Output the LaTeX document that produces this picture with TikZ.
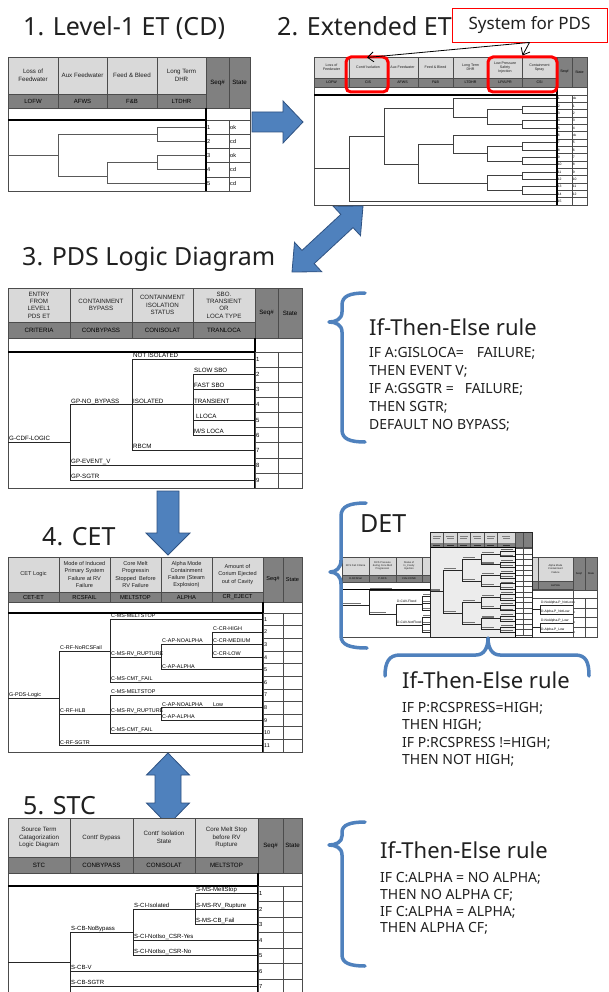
\documentclass[tikz,border=0pt]{standalone}
\usepackage{fontspec}
\setmainfont{Noto Sans}
\newfontfamily\tabfont{Liberation Sans}
\usetikzlibrary{arrows.meta}

\definecolor{cLight}{RGB}{217,217,217}
\definecolor{cDark}{RGB}{128,128,128}
\definecolor{arrowblue}{RGB}{79,129,189}
\definecolor{arrowedge}{RGB}{47,82,130}
\definecolor{inkgray}{RGB}{32,32,32}
\definecolor{detfill}{RGB}{236,236,236}

% header column: light title cell over a dark code cell
\newcommand{\hcol}[8]{%
  \fill[cLight] (#2,#4) rectangle (#3,#5);
  \fill[cDark] (#2,#5) rectangle (#3,#6);
  \draw[gridline] (#2,#4) rectangle (#3,#6);
  \draw[gridline] (#2,#5) -- (#3,#5);
  \node[hdrtext] (#1-h) at ({(#2+#3)/2},{(#4+#5)/2}) {#7};
  \node[codetext] (#1-c) at ({(#2+#3)/2},{(#5+#6)/2}) {#8};}
% dark header cell of the Seq#/State columns
\newcommand{\shead}[6]{%
  \fill[cDark] (#2,#4) rectangle (#3,#5);
  \draw[gridline] (#2,#4) rectangle (#3,#5);
  \node[hdrtext,text=black] (#1) at ({(#2+#3)/2},{(#4+#5)/2}) {#6};}
% numbered Seq#/State rows
\newcommand{\seqgrid}[7]{%
  \foreach \i in {1,...,#7}{%
    \draw[gridline] (#2,{#5+(\i-1)*#6}) rectangle (#3,{#5+\i*#6});
    \draw[gridline] (#3,{#5+(\i-1)*#6}) rectangle (#4,{#5+\i*#6});
    \node[seqtext] (#1-n\i) at (#2,{#5+(\i-0.5)*#6}) {\i};}}
% row centre of the current table
\newcommand{\rowy}[1]{(\ty+(#1-0.5)*\th)}
\newcommand{\midy}[2]{(\rowy{#1}+\rowy{#2})/2}
\newcommand{\hseg}[3]{\draw[treeline] ({#1},{#3}) -- ({#2},{#3});}
\newcommand{\vseg}[3]{\draw[treeline] ({#1},{#2}) -- ({#1},{#3});}
\newcommand{\tlab}[4]{\node[treelabel] (#1) at ({#2},{#3}) {#4};}
% tiny unreadable label drawn as a grey stroke
\newcommand{\txtbar}[3]{\fill[black!55] ({#1+1},{#3-2.3}) rectangle ({#1+1+#2},{#3-1.2});}

\begin{document}
\begin{tikzpicture}[x=1pt,y=-1pt,
  gridline/.style={draw=black!70, line width=0.5pt},
  treeline/.style={draw=black!85, line width=0.8pt},
  boldrule/.style={draw=black, line width=1.8pt},
  hdrtext/.style={inner sep=0pt, align=center, text=black!88},
  codetext/.style={inner sep=0pt},
  seqtext/.style={anchor=west, inner sep=1pt},
  treelabel/.style={anchor=base west, inner sep=0pt, xshift=1pt, yshift=1.8pt},
  titletext/.style={anchor=base west, inner sep=0pt, font=\fontsize{25}{30}\selectfont, text=inkgray},
  ruleh/.style={anchor=base west, inner sep=0pt, font=\fontsize{22}{26}\selectfont, text=inkgray},
  ruleb/.style={anchor=base west, inner sep=0pt, font=\fontsize{14}{17}\selectfont, text=inkgray},
  blockarrow/.style={fill=arrowblue, draw=arrowedge, line width=0.8pt, line join=miter},
  bracestroke/.style={draw=arrowblue, line width=3.5pt, line cap=round, line join=round},
  redframe/.style={draw=red, line width=3pt, rounded corners=5pt, inner sep=0pt},
  pointer/.style={draw=black, line width=0.8pt, -{Straight Barb[length=6pt,width=10pt]}}]
\useasboundingbox (0,0) rectangle (608,992);
\fill[white] (0,0) rectangle (608,992);
\clip (0,0) rectangle (608,992);

% ---------- titles ----------
\node[titletext] (t1) at (23,36) {1. Level-1 ET (CD)};
\node[titletext] (t2) at (277,36) {2. Extended ET};
\node[titletext] (t3) at (22,265) {3. PDS Logic Diagram};
\node[titletext] (t4) at (42,545) {4. CET};
\node[titletext] (t5) at (23,814) {5. STC};
\node[titletext] (t6) at (360,532) {DET};

% ---------- 1. Level-1 ET ----------
\begin{scope}[hdrtext/.append style={font=\tabfont\fontsize{6.2}{7.6}\selectfont},
  codetext/.append style={font=\tabfont\fontsize{6}{7}\selectfont},
  seqtext/.append style={font=\tabfont\fontsize{5.6}{6}\selectfont},
  treeline/.style={draw=black!65, line width=0.8pt}]
\def\ty{120}\def\th{14.2}
\hcol{a1}{8}{58}{57}{94}{108}{Loss of\\Feedwater}{LOFW}
\hcol{a2}{58}{107}{57}{94}{108}{Aux Feedwater}{AFWS}
\hcol{a3}{107}{157}{57}{94}{108}{Feed \& Bleed}{F\&B}
\hcol{a4}{157}{206}{57}{94}{108}{Long Term\\DHR}{LTDHR}
\shead{a-sq}{206}{229}{57}{108}{Seq\#}
\shead{a-st}{229}{250}{57}{108}{State}
\draw[gridline] (8,108) rectangle (206,120);
\draw[gridline] (206,108) rectangle (250,120);
\draw[gridline] (8,120) rectangle (206,191);
\hseg{8}{58}{(\midy{1}{2}+\midy{4}{5})/2}
\vseg{58}{\midy{1}{2}}{\midy{4}{5}}
\hseg{58}{157}{\midy{1}{2}}
\vseg{157}{\rowy{1}}{\rowy{2}}
\hseg{157}{206}{\rowy{1}}
\hseg{157}{206}{\rowy{2}}
\hseg{58}{107}{\midy{4}{5}}
\vseg{107}{\midy{3}{4}}{\rowy{5}}
\hseg{107}{157}{\midy{3}{4}}
\vseg{157}{\rowy{3}}{\rowy{4}}
\hseg{157}{206}{\rowy{3}}
\hseg{157}{206}{\rowy{4}}
\hseg{107}{206}{\rowy{5}}
\seqgrid{a}{206}{229}{250}{120}{14.2}{5}
\foreach \i/\st in {1/ok,2/cd,3/ok,4/cd,5/cd}
  \node[seqtext] (a-s\i) at (229,{120+(\i-0.5)*14.2}) {\st};
\draw[boldrule] (8,120) -- (206,120);
\draw[boldrule] (206,108) -- (206,191);
\end{scope}

% arrow 1 -> 2
\filldraw[blockarrow] (252,112) -- (283,112) -- (283,101) -- (303,122) -- (283,143) -- (283,132) -- (252,132) -- cycle;

% ---------- 2. Extended ET ----------
\begin{scope}[hdrtext/.append style={font=\tabfont\fontsize{3.6}{4.2}\selectfont},
  codetext/.append style={font=\tabfont\fontsize{3.6}{4}\selectfont},
  seqtext/.append style={font=\tabfont\fontsize{3.4}{4}\selectfont, inner sep=0.6pt},
  treeline/.style={draw=black!75, line width=0.7pt}]
\def\ty{95}\def\th{7.3333}
\hcol{b1}{314}{349}{57}{78}{87}{Loss of\\Feedwater}{LOFW}
\hcol{b2}{349}{387}{57}{78}{87}{Contt' Isolation}{CIS}
\hcol{b3}{387}{418}{57}{78}{87}{Aux Feedwater}{AFWS}
\hcol{b4}{418}{453}{57}{78}{87}{Feed \& Bleed}{F\&B}
\hcol{b5}{453}{488}{57}{78}{87}{Long Term\\DHR}{LTDHR}
\hcol{b6}{488}{522}{57}{78}{87}{Low Pressure\\Safety\\Injection}{LPI/LPR}
\hcol{b7}{522}{557}{57}{78}{87}{Containment\\Spray}{CSI}
\shead{b-sq}{557}{572}{57}{87}{Seq\#}
\shead{b-st}{572}{587}{57}{87}{State}
\draw[gridline] (314,87) rectangle (557,95);
\draw[gridline] (557,87) rectangle (587,95);
\draw[gridline] (314,95) rectangle (557,205);
% event tree
\hseg{314}{349}{(136+\rowy{15})/2}
\vseg{349}{136}{\rowy{15}}
\hseg{349}{557}{\rowy{15}}
\hseg{349}{384}{136}
\vseg{384}{108}{164}
\hseg{384}{453}{108}
\vseg{453}{\rowy{1}}{117}
\hseg{453}{557}{\rowy{1}}
\hseg{453}{487}{117}
\vseg{487}{\midy{2}{3}}{\midy{4}{5}}
\foreach \k in {2,4}{%
  \hseg{487}{522}{\midy{\k}{\k+1}}
  \vseg{522}{\rowy{\k}}{\rowy{\k+1}}
  \hseg{522}{557}{\rowy{\k}}
  \hseg{522}{557}{\rowy{\k+1}}}
\hseg{384}{418}{164}
\vseg{418}{(\rowy{6}+\midy{8}{9})/2}{\midy{12}{13}}
\hseg{418}{453}{(\rowy{6}+\midy{8}{9})/2}
\vseg{453}{\rowy{6}}{\midy{8}{9}}
\hseg{453}{557}{\rowy{6}}
\hseg{453}{487}{\midy{8}{9}}
\vseg{487}{\midy{7}{8}}{\midy{9}{10}}
\hseg{418}{487}{\midy{12}{13}}
\vseg{487}{\midy{11}{12}}{\midy{13}{14}}
\foreach \k in {7,9,11,13}{%
  \hseg{487}{522}{\midy{\k}{\k+1}}
  \vseg{522}{\rowy{\k}}{\rowy{\k+1}}
  \hseg{522}{557}{\rowy{\k}}
  \hseg{522}{557}{\rowy{\k+1}}}
\seqgrid{b}{557}{572}{587}{95}{7.3333}{15}
\foreach \i/\st in {1/ok,2/1,3/2,4/3,5/4,6/ok,7/5,8/6,9/7,10/8,11/9,12/10,13/11,14/12}
  \node[seqtext] (b-s\i) at (572,{95+(\i-0.5)*7.3333}) {\st};
\draw[boldrule, line width=1.3pt] (314,95) -- (557,95);
\draw[boldrule, line width=1.3pt] (557,87) -- (557,205);
\end{scope}

% systems added for the PDS
\node[redframe, minimum width=42pt, minimum height=35pt] (ciss) at (367,74.5) {};
\node[redframe, minimum width=69pt, minimum height=35pt] (lpis) at (522.5,74.5) {};
\node[draw=red, line width=0.9pt, fill=white, minimum width=155pt, minimum height=34pt, inner sep=0pt,
  font=\fontsize{17}{20}\selectfont, text=inkgray] (sys) at (529.5,25) {System for PDS};
\draw[pointer] (sys.south) -- ([yshift=-2pt]ciss.north);
\draw[pointer] (sys.south) -- (lpis.north);

% arrow 2 <-> 3
\filldraw[blockarrow] (292,272) -- (321.7,271.7) -- (314.2,263.6) -- (353.0,227.6) -- (360.5,235.7)
  -- (363,206) -- (333.3,206.3) -- (340.8,214.4) -- (302.0,250.4) -- (294.5,242.3) -- cycle;

% ---------- 3. PDS logic diagram ----------
\begin{scope}[hdrtext/.append style={font=\tabfont\fontsize{6.2}{7.3}\selectfont},
  codetext/.append style={font=\tabfont\fontsize{6.2}{7}\selectfont},
  seqtext/.append style={font=\tabfont\fontsize{6}{7}\selectfont},
  treelabel/.append style={font=\tabfont\fontsize{6.2}{7}\selectfont}]
\def\ty{352}\def\th{15.111}
\hcol{c1}{8}{70}{288}{322}{338}{ENTRY\\FROM\\LEVEL1\\PDS ET}{CRITERIA}
\hcol{c2}{70}{132}{288}{322}{338}{CONTAINMENT\\BYPASS}{CONBYPASS}
\hcol{c3}{132}{193}{288}{322}{338}{CONTAINMENT\\ISOLATION\\STATUS}{CONISOLAT}
\hcol{c4}{193}{255}{288}{322}{338}{SBO.\\TRANSIENT\\OR\\LOCA TYPE}{TRANLOCA}
\shead{c-sq}{255}{278}{288}{338}{Seq\#}
\shead{c-st}{278}{302}{288}{338}{State}
\draw[gridline] (8,338) rectangle (255,352);
\draw[gridline] (255,338) rectangle (302,352);
\draw[gridline] (8,352) rectangle (255,488);
\hseg{8}{70}{(\midy{1}{7}+\rowy{9})/2}
\vseg{70}{\midy{1}{7}}{\rowy{9}}
\hseg{70}{132}{\midy{1}{7}}
\vseg{132}{\rowy{1}}{\rowy{7}}
\hseg{132}{255}{\rowy{1}}
\hseg{132}{193}{\rowy{4}}
\vseg{193}{\rowy{2}}{\rowy{6}}
\foreach \k in {2,...,6}{\hseg{193}{255}{\rowy{\k}}}
\hseg{132}{255}{\rowy{7}}
\hseg{70}{255}{\rowy{8}}
\hseg{70}{255}{\rowy{9}}
\tlab{c-l0}{8}{(\midy{1}{7}+\rowy{9})/2}{G-CDF-LOGIC}
\tlab{c-l1}{70}{\midy{1}{7}}{GP-NO\_BYPASS}
\tlab{c-l2}{132}{\rowy{1}}{NOT ISOLATED}
\tlab{c-l3}{132}{\rowy{4}}{ISOLATED}
\tlab{c-l4}{193}{\rowy{2}}{SLOW SBO}
\tlab{c-l5}{193}{\rowy{3}}{FAST SBO}
\tlab{c-l6}{193}{\rowy{4}}{TRANSIENT}
\tlab{c-l7}{195}{\rowy{5}}{LLOCA}
\tlab{c-l8}{193}{\rowy{6}}{M/S LOCA}
\tlab{c-l9}{132}{\rowy{7}}{RBCM}
\tlab{c-l10}{70}{\rowy{8}}{GP-EVENT\_V}
\tlab{c-l11}{70}{\rowy{9}}{GP-SGTR}
\draw[boldrule] (8,352) -- (255,352);
\draw[boldrule] (255,338) -- (255,488);
\seqgrid{c}{255}{278}{302}{352}{15.111}{9}
\end{scope}

% rule for the PDS logic
\draw[bracestroke] (365,293) .. controls (350,293) and (342,296) .. (342,305) -- (342,312)
  .. controls (342,319) and (336,322) .. (329,322) .. controls (336,322) and (342,325) .. (342,332)
  -- (342,430) .. controls (342,439) and (350,442) .. (365,442);
\node[ruleh] (r1h) at (369,335) {If-Then-Else rule};
\node[ruleb] (r1a) at (369,357) {IF A:GISLOCA=\hspace{13pt}FAILURE;};
\node[ruleb] (r1b) at (369,375) {THEN EVENT V;};
\node[ruleb] (r1c) at (369,393) {IF A:GSGTR =\hspace{11pt}FAILURE;};
\node[ruleb] (r1d) at (369,411) {THEN SGTR;};
\node[ruleb] (r1e) at (369,429) {DEFAULT NO BYPASS;};

% arrow 3 -> 4
\filldraw[blockarrow] (157,491) -- (179,491) -- (179,533) -- (190,533) -- (168,555) -- (146,533) -- (157,533) -- cycle;

% ---------- 4. CET ----------
\begin{scope}[hdrtext/.append style={font=\tabfont\fontsize{5.6}{7.2}\selectfont},
  codetext/.append style={font=\tabfont\fontsize{5.8}{7}\selectfont},
  seqtext/.append style={font=\tabfont\fontsize{5.4}{6}\selectfont},
  treelabel/.append style={font=\tabfont\fontsize{5.4}{6}\selectfont, yshift=-0.2pt}]
\def\ty{613}\def\th{12.636}
\hcol{d1}{8}{59}{557}{592}{602}{CET Logic}{CET-ET}
\hcol{d2}{59}{110}{557}{592}{602}{Mode of Induced\\Primary System\\Failure at RV\\Failure}{RCSFAIL}
\hcol{d3}{110}{161}{557}{592}{602}{Core Melt\\Progressin\\Stopped~ Before\\RV Failure}{MELTSTOP}
\hcol{d4}{161}{212}{557}{592}{602}{Alpha Mode\\Containment\\Failure (Steam\\Explosion)}{ALPHA}
\hcol{d5}{212}{263}{557}{592}{602}{Amount of\\Corium Ejected\\out of Cavity}{CR\_EJECT}
\shead{d-sq}{263}{283}{557}{602}{Seq\#}
\shead{d-st}{283}{302}{557}{602}{State}
\draw[gridline] (8,602) rectangle (263,613);
\draw[gridline] (263,602) rectangle (302,613);
\draw[gridline] (8,613) rectangle (263,752);
\hseg{8}{59}{(\midy{1}{6}+\rowy{11})/2}
\vseg{59}{\midy{1}{6}}{\rowy{11}}
\hseg{59}{110}{\midy{1}{6}}
\vseg{110}{\rowy{1}}{\rowy{6}}
\hseg{110}{263}{\rowy{1}}
\hseg{110}{161}{\rowy{4}}
\vseg{161}{\rowy{3}}{\rowy{5}}
\hseg{161}{212}{\rowy{3}}
\vseg{212}{\rowy{2}}{\rowy{4}}
\foreach \k in {2,3,4}{\hseg{212}{263}{\rowy{\k}}}
\hseg{161}{263}{\rowy{5}}
\hseg{110}{263}{\rowy{6}}
\hseg{59}{110}{\midy{7}{10}}
\vseg{110}{\rowy{7}}{\rowy{10}}
\hseg{110}{263}{\rowy{7}}
\hseg{110}{161}{\midy{8}{9}}
\vseg{161}{\rowy{8}}{\rowy{9}}
\hseg{161}{263}{\rowy{8}}
\hseg{161}{263}{\rowy{9}}
\hseg{110}{263}{\rowy{10}}
\hseg{59}{263}{\rowy{11}}
\tlab{d-l0}{8}{(\midy{1}{6}+\rowy{11})/2}{G-PDS-Logic}
\tlab{d-l1}{59}{\midy{1}{6}}{C-RF-NoRCSFail}
\tlab{d-l2}{110}{\rowy{1}}{C-MS-MELTSTOP}
\tlab{d-l3}{110}{\rowy{4}}{C-MS-RV\_RUPTURE}
\tlab{d-l4}{161}{\rowy{3}}{C-AP-NOALPHA}
\tlab{d-l5}{212}{\rowy{2}}{C-CR-HIGH}
\tlab{d-l6}{212}{\rowy{3}}{C-CR-MEDIUM}
\tlab{d-l7}{212}{\rowy{4}}{C-CR-LOW}
\tlab{d-l8}{161}{\rowy{5}}{C-AP-ALPHA}
\tlab{d-l9}{110}{\rowy{6}}{C-MS-CMT\_FAIL}
\tlab{d-l10}{59}{\midy{7}{10}}{C-RF-HLB}
\tlab{d-l11}{110}{\rowy{7}}{C-MS-MELTSTOP}
\tlab{d-l12}{110}{\midy{8}{9}}{C-MS-RV\_RUPTURE}
\tlab{d-l13}{161}{\rowy{8}}{C-AP-NOALPHA}
\tlab{d-l14}{212}{\rowy{8}}{Low}
\tlab{d-l15}{161}{\rowy{9}}{C-AP-ALPHA}
\tlab{d-l16}{110}{\rowy{10}}{C-MS-CMT\_FAIL}
\tlab{d-l17}{59}{\rowy{11}}{C-RF-SGTR}
\draw[boldrule] (8,613) -- (263,613);
\draw[boldrule] (263,602) -- (263,752);
\seqgrid{d}{263}{283}{302}{613}{12.636}{11}
\end{scope}

% ---------- DET: back table ----------
\begin{scope}[hdrtext/.append style={font=\tabfont\fontsize{2.6}{3.1}\selectfont},
  codetext/.append style={font=\tabfont\fontsize{2.6}{3}\selectfont},
  seqtext/.append style={font=\tabfont\fontsize{2.6}{3}\selectfont, inner sep=0.5pt},
  treelabel/.append style={font=\tabfont\fontsize{3.3}{4}\selectfont, yshift=-0.6pt},
  treeline/.style={draw=black!85, line width=0.5pt},
  gridline/.style={draw=black!70, line width=0.4pt}]
\fill[white] (342,557) rectangle (597,637);
\hcol{f1}{342}{369}{557}{575}{582}{RCS Fail Criteria}{D-RCSFail}
\hcol{f2}{369}{396}{557}{575}{582}{RCS Pressure\\during Core Melt\\Progression}{P-RCS}
\hcol{f3}{396}{422}{557}{575}{582}{Status of\\In\_Cavity\\Injection}{CAV-COND}
\hcol{f4}{422}{452}{557}{575}{582}{}{}
\hcol{f5}{518}{538}{557}{581}{590}{}{}
\hcol{f6}{538}{573}{557}{581}{590}{Alpha Mode\\Containment\\Failure}{ALPHA}
\shead{f-sq}{573}{585}{557}{590}{Seq\#}
\shead{f-st}{585}{597}{557}{590}{State}
\draw[gridline] (342,582) rectangle (452,589);
\draw[gridline] (518,590) rectangle (597,598);
\draw[gridline] (342,589) rectangle (573,637);
\draw[boldrule, line width=1pt] (342,589) -- (452,589);
\hseg{342}{369}{605}
\vseg{369}{590}{614}
\hseg{369}{432}{590}
\hseg{369}{396}{614}
\vseg{396}{604}{625}
\hseg{396}{422}{604}
\hseg{396}{422}{625}
\vseg{422}{596}{610}
\vseg{422}{617}{632}
\foreach \yy in {596,603,610,617,624.5,632}{\hseg{422}{432}{\yy}}
\txtbar{342}{18}{605}
\txtbar{369}{22}{590}
\txtbar{369}{16}{614}
\tlab{f-l1}{396}{604}{D-CAV-Flood}
\tlab{f-l2}{396}{625}{D-CAV-NotFlood}
\foreach \yy in {596,603,610,617,624.5,632}{\txtbar{422}{8}{\yy}}
\hseg{530}{540}{609.5}
\vseg{540}{605}{614}
\hseg{540}{573}{605}
\hseg{540}{573}{614}
\hseg{530}{540}{627.5}
\vseg{540}{623}{632}
\hseg{540}{573}{623}
\hseg{540}{573}{632}
\tlab{f-l3}{540}{605}{D-NoAlpha-P\_NotLow}
\tlab{f-l4}{540}{614}{D-Alpha-P\_NotLow}
\tlab{f-l5}{540}{623}{D-NoAlpha-P\_Low}
\tlab{f-l6}{540}{632}{D-Alpha-P\_Low}
\seqgrid{f}{573}{585}{597}{598}{9.75}{4}
\end{scope}

% ---------- DET: front table ----------
\begin{scope}[treeline/.style={draw=black!85, line width=0.45pt},
  gridline/.style={draw=black!70, line width=0.35pt}]
\def\ty{548.5}\def\th{5.4}
\fill[detfill] (430,547) rectangle (515,637);
\fill[white] (515,547) rectangle (532,637);
\foreach \xa/\xb in {430/443.5,443.5/457,457/470.5,470.5/484,484/497.5,497.5/515}{%
  \fill[cLight] (\xa,532) rectangle (\xb,543);
  \fill[cDark] (\xa,543) rectangle (\xb,547);
  \draw[gridline] (\xa,532) rectangle (\xb,547);
  \fill[black!50] ({(\xa+\xb)/2-4},535.6) rectangle ({(\xa+\xb)/2+4},536.3);
  \fill[black!50] ({(\xa+\xb)/2-3.5},538.2) rectangle ({(\xa+\xb)/2+3.5},538.9);
  \fill[black!80] ({(\xa+\xb)/2-3.5},544.7) rectangle ({(\xa+\xb)/2+3.5},545.3);}
\fill[cDark] (515,532) rectangle (532,547);
\draw[gridline] (515,532) rectangle (523.5,547) (523.5,532) rectangle (532,547);
\hseg{430}{443}{\midy{8}{9}}
\txtbar{430}{9}{\midy{8}{9}}
\vseg{443}{\midy{4}{5}}{\midy{12}{13}}
\foreach \l in {1,2}{%
  \hseg{443}{462}{\midy{8*\l-4}{8*\l-3}}
  \txtbar{443}{12}{\midy{8*\l-4}{8*\l-3}}
  \vseg{462}{\midy{8*\l-6}{8*\l-5}}{\midy{8*\l-2}{8*\l-1}}}
\foreach \k in {1,...,4}{%
  \hseg{462}{481}{\midy{4*\k-2}{4*\k-1}}
  \txtbar{462}{12}{\midy{4*\k-2}{4*\k-1}}
  \vseg{481}{\midy{4*\k-3}{4*\k-2}}{\midy{4*\k-1}{4*\k}}}
\foreach \j in {1,...,8}{%
  \hseg{481}{500}{\midy{2*\j-1}{2*\j}}
  \txtbar{481}{12}{\midy{2*\j-1}{2*\j}}
  \vseg{500}{\rowy{2*\j-1}}{\rowy{2*\j}}}
\foreach \i in {1,...,16}{%
  \hseg{500}{515}{\rowy{\i}}
  \fill[black!60] (501,{\rowy{\i}-2}) rectangle (513,{\rowy{\i}-1});
  \draw[gridline] (515,{\ty+(\i-1)*\th}) rectangle (523.5,{\ty+\i*\th});
  \draw[gridline] (523.5,{\ty+(\i-1)*\th}) rectangle (532,{\ty+\i*\th});}
\draw[black, line width=1pt] (430,547) -- (515,547) (515,547) -- (515,637);
\draw[black!85, line width=0.8pt] (430,532) rectangle (532,637);
\end{scope}

% DET braces and rule
\draw[bracestroke] (366,503) .. controls (350,503) and (341,506) .. (341,516) -- (341,560)
  .. controls (341,568) and (336,572) .. (330,572) .. controls (336,572) and (341,576) .. (341,584)
  -- (341,636) .. controls (341,645) and (350,648) .. (367,648);
\draw[bracestroke] (385,676) .. controls (385,662) and (389,655) .. (400,655) -- (476,655)
  .. controls (484,655) and (488,648) .. (488,638) .. controls (488,648) and (492,655) .. (500,655)
  -- (575,655) .. controls (586,655) and (589,662) .. (589,676);
\node[ruleh] (r2h) at (402,688) {If-Then-Else rule};
\node[ruleb] (r2a) at (402,712) {IF P:RCSPRESS=HIGH;};
\node[ruleb] (r2b) at (402,729.5) {THEN HIGH;};
\node[ruleb] (r2c) at (402,747) {IF P:RCSPRESS !=HIGH;};
\node[ruleb] (r2d) at (402,764.5) {THEN NOT HIGH;};

% arrow 4 <-> 5
\filldraw[blockarrow] (168,753) -- (189.5,775) -- (181,775) -- (181,803) -- (189.5,803) -- (168,825)
  -- (146.5,803) -- (155,803) -- (155,775) -- (146.5,775) -- cycle;

% ---------- 5. STC ----------
\begin{scope}[hdrtext/.append style={font=\tabfont\fontsize{6.2}{7.5}\selectfont},
  codetext/.append style={font=\tabfont\fontsize{6.2}{7}\selectfont},
  seqtext/.append style={font=\tabfont\fontsize{5.8}{6}\selectfont},
  treelabel/.append style={font=\tabfont\fontsize{6}{7}\selectfont}]
\def\ty{886}\def\th{15.5}
\hcol{e1}{8}{70}{818}{857}{873}{Source Term\\Catagorization\\Logic Diagram}{STC}
\hcol{e2}{70}{133}{818}{857}{873}{Contt' Bypass}{CONBYPASS}
\hcol{e3}{133}{195}{818}{857}{873}{Contt' Isolation\\State}{CONISOLAT}
\hcol{e4}{195}{258}{818}{857}{873}{Core Melt Stop\\before RV\\Rupture}{MELTSTOP}
\shead{e-sq}{258}{283}{818}{873}{Seq\#}
\shead{e-st}{283}{302}{818}{873}{State}
\draw[gridline] (8,873) rectangle (258,886);
\draw[gridline] (258,873) rectangle (302,886);
\draw[gridline] (8,886) rectangle (258,1010);
\hseg{8}{70}{962}
\vseg{70}{\midy{2}{5}}{\rowy{8}}
\hseg{70}{133}{\midy{2}{5}}
\vseg{133}{\rowy{2}}{\rowy{5}}
\hseg{133}{195}{\rowy{2}}
\vseg{195}{\rowy{1}}{\rowy{3}}
\foreach \k in {1,2,3}{\hseg{195}{258}{\rowy{\k}}}
\hseg{133}{258}{\rowy{4}}
\hseg{133}{258}{\rowy{5}}
\foreach \k in {6,7,8}{\hseg{70}{258}{\rowy{\k}}}
\tlab{e-l1}{70}{\midy{2}{5}}{S-CB-NoBypass}
\tlab{e-l2}{133}{\rowy{2}}{S-CI-Isolated}
\tlab{e-l3}{195}{\rowy{1}}{S-MS-MeltStop}
\tlab{e-l4}{195}{\rowy{2}}{S-MS-RV\_Rupture}
\tlab{e-l5}{195}{\rowy{3}}{S-MS-CB\_Fail}
\tlab{e-l6}{133}{\rowy{4}}{S-CI-NotIso\_CSR-Yes}
\tlab{e-l7}{133}{\rowy{5}}{S-CI-NotIso\_CSR-No}
\tlab{e-l8}{70}{\rowy{6}}{S-CB-V}
\tlab{e-l9}{70}{\rowy{7}}{S-CB-SGTR}
\draw[boldrule] (8,886) -- (258,886);
\draw[boldrule] (258,873) -- (258,1010);
\seqgrid{e}{258}{283}{302}{886}{15.5}{7}
% the next row continues below the page edge
\draw[gridline] (258,994.5) rectangle (283,1010) (283,994.5) rectangle (302,1010);
\end{scope}

% rule for the source term categories
\draw[bracestroke] (365,822) .. controls (350,822) and (342,825) .. (342,832) -- (342,836)
  .. controls (342,842) and (336,845) .. (329,845) .. controls (336,845) and (342,848) .. (342,855)
  -- (342,955) .. controls (342,963) and (350,966) .. (365,966);
\node[ruleh] (r3h) at (380,858) {If-Then-Else rule};
\node[ruleb] (r3a) at (380,882) {IF C:ALPHA = NO ALPHA;};
\node[ruleb] (r3b) at (380,899) {THEN NO ALPHA CF;};
\node[ruleb] (r3c) at (380,916) {IF C:ALPHA = ALPHA;};
\node[ruleb] (r3d) at (380,932) {THEN ALPHA CF;};
\end{tikzpicture}
\end{document}
